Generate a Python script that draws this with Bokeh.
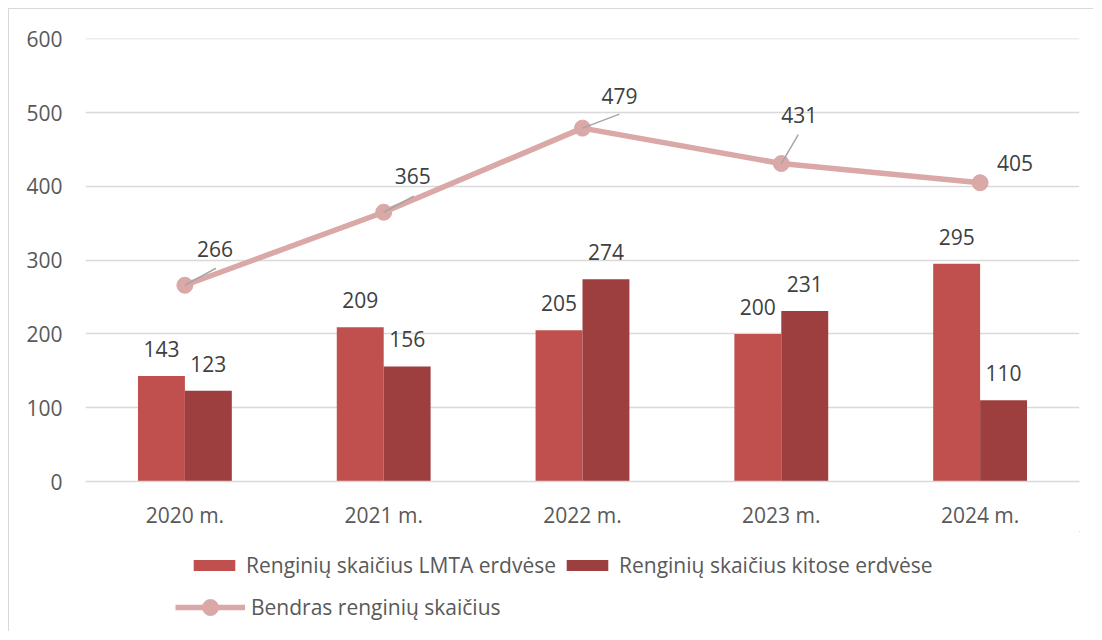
from bokeh.plotting import figure
from bokeh.layouts import column
from bokeh.models import (ColumnDataSource, Range1d, FixedTicker, Legend, LegendItem)
from bokeh.embed import file_html
from bokeh.resources import INLINE
from bokeh.core.properties import value

# ---- data ----
years = ["2020 m.", "2021 m.", "2022 m.", "2023 m.", "2024 m."]
lmta = [143, 209, 205, 200, 295]
kitos = [123, 156, 274, 231, 110]
total = [266, 365, 479, 431, 405]
y_ticks = [0, 100, 200, 300, 400, 500, 600]
series_names = ["Renginių skaičius LMTA erdvėse",
                "Renginių skaičius kitose erdvėse",
                "Bendras renginių skaičius"]

# ---- styling / placement ----
C_LMTA = "#C0504D"
C_KIT = "#9E3F3F"
C_LINE = "#DAA8A7"
C_LEAD = "#A6A6A6"
GRID = "#D9D9D9"
TXT = "#404040"
TICK = "#595959"
FONT = "Open Sans"
FS = "21px"

W, H = 1084, 522
H_LEG = 100
ML, MR, MT, MB = 76, 14, 29, 50
Y_MAX = 600.5
frame_w = W - ML - MR
frame_h = H - MT - MB
bar_w = 0.236
xs = [i + 0.5 for i in range(len(years))]
px_x = frame_w / len(years)
px_y = frame_h / Y_MAX
TXT_FIX = -9  # baseline correction

# label offsets for total line (screen px, y positive down)
lab_dx = [30, 29, 37, 18, 35]
lab_dy = [-27, -27, -23, -40, -11]
# leader line ends (screen px, up positive)
lead_dx = [31, 30, 37, 17, 0]
lead_dy = [17, 16, 14, 29, 0]

p = figure(width=W, height=H, output_backend="svg", toolbar_location=None,
           x_range=Range1d(0, len(years)), y_range=Range1d(0, Y_MAX),
           min_border_left=ML, min_border_right=MR, min_border_top=MT,
           min_border_bottom=MB)
p.outline_line_color = None
p.background_fill_color = "white"
p.border_fill_color = "white"

# grid
p.xgrid.grid_line_color = None
p.ygrid.grid_line_color = GRID
p.ygrid.grid_line_width = 1.5
p.yaxis.ticker = FixedTicker(ticks=y_ticks)
p.xaxis.ticker = FixedTicker(ticks=xs)
p.xaxis.major_label_overrides = {x: y for x, y in zip(xs, years)}

for ax in (p.xaxis[0], p.yaxis[0]):
    ax.major_tick_line_color = None
    ax.minor_tick_line_color = None
    ax.major_label_text_font = FONT
    ax.major_label_text_font_size = FS
    ax.major_label_text_color = TICK
p.yaxis.axis_line_color = None
p.xaxis.axis_line_color = GRID
p.xaxis.axis_line_width = 1.5
p.yaxis.major_label_standoff = 17
p.xaxis.major_label_standoff = 13

src = ColumnDataSource(dict(
    x=xs,
    x_l=[x - bar_w / 2 for x in xs],
    x_k=[x + bar_w / 2 for x in xs],
    lmta=lmta, kitos=kitos, total=total,
    lmta_t=[str(v) for v in lmta], kitos_t=[str(v) for v in kitos],
    total_t=[str(v) for v in total],
    lab_dx=lab_dx, lab_dy=[d + TXT_FIX for d in lab_dy],
    lx1=[x + dx / px_x for x, dx in zip(xs, lead_dx)],
    ly1=[t + dy / px_y for t, dy in zip(total, lead_dy)],
))

p.vbar(x="x_l", top="lmta", width=bar_w, bottom=0, source=src,
       fill_color=C_LMTA, line_color=None)
p.vbar(x="x_k", top="kitos", width=bar_w, bottom=0, source=src,
       fill_color=C_KIT, line_color=None)
p.line(x="x", y="total", source=src, line_color=C_LINE, line_width=5.5)
p.scatter(x="x", y="total", source=src, size=16, marker="circle",
          fill_color=C_LINE, line_color=C_LINE)
p.segment(x0="x", y0="total", x1="lx1", y1="ly1", source=src,
          line_color=C_LEAD, line_width=1.5)

common = dict(text_font=value(FONT), text_font_size=FS, text_color=TXT,
              text_align="center", text_baseline="alphabetic")
p.text(x="x_l", y="lmta", text="lmta_t", source=src, y_offset=-18 + TXT_FIX, **common)
p.text(x="x_k", y="kitos", text="kitos_t", source=src, y_offset=-18 + TXT_FIX, **common)
p.text(x="x", y="total", text="total_t", source=src,
       x_offset="lab_dx", y_offset="lab_dy", **common)

# ---- legend panel (its renderers sit outside the visible range) ----
pl = figure(width=W, height=H_LEG, output_backend="svg", toolbar_location=None,
            x_range=Range1d(0, 1), y_range=Range1d(0, 1),
            x_axis_location=None, y_axis_location=None,
            min_border_left=0, min_border_right=0, min_border_top=0,
            min_border_bottom=0)
pl.outline_line_color = None
pl.grid.grid_line_color = None
hidden = ColumnDataSource(dict(x=[5, 6], y=[5, 6]))
l1 = pl.vbar(x="x", top="y", bottom=4, width=0.1, source=hidden,
             fill_color=C_LMTA, line_color=None)
l2 = pl.vbar(x="x", top="y", bottom=4, width=0.1, source=hidden,
             fill_color=C_KIT, line_color=None)
l3 = pl.line(x="x", y="y", source=hidden, line_color=C_LINE, line_width=5.5)
l4 = pl.scatter(x="x", y="y", source=hidden, size=16, marker="circle",
                fill_color=C_LINE, line_color=C_LINE)

leg_style = dict(orientation="horizontal", label_height=30,
                 label_standoff=6, spacing=5, padding=0, margin=0,
                 border_line_color=None, background_fill_alpha=0,
                 label_text_font=FONT, label_text_font_size=FS,
                 label_text_color=TICK)
leg1 = Legend(items=[LegendItem(label=series_names[0], renderers=[l1]),
                     LegendItem(label=series_names[1], renderers=[l2])],
              location=(103, 51), glyph_width=52, glyph_height=14, **leg_style)
leg2 = Legend(items=[LegendItem(label=series_names[2], renderers=[l3, l4])],
              location=(90, 4), glyph_width=70, glyph_height=40, **leg_style)
pl.add_layout(leg1, "center")
pl.add_layout(leg2, "center")

layout = column(p, pl, spacing=0)
layout.styles = {"margin-left": "8px", "margin-top": "8px",
                 "border-left": "1px solid #D9D9D9", "border-top": "1px solid #D9D9D9"}

open("out.html", "w").write(file_html(layout, INLINE))
